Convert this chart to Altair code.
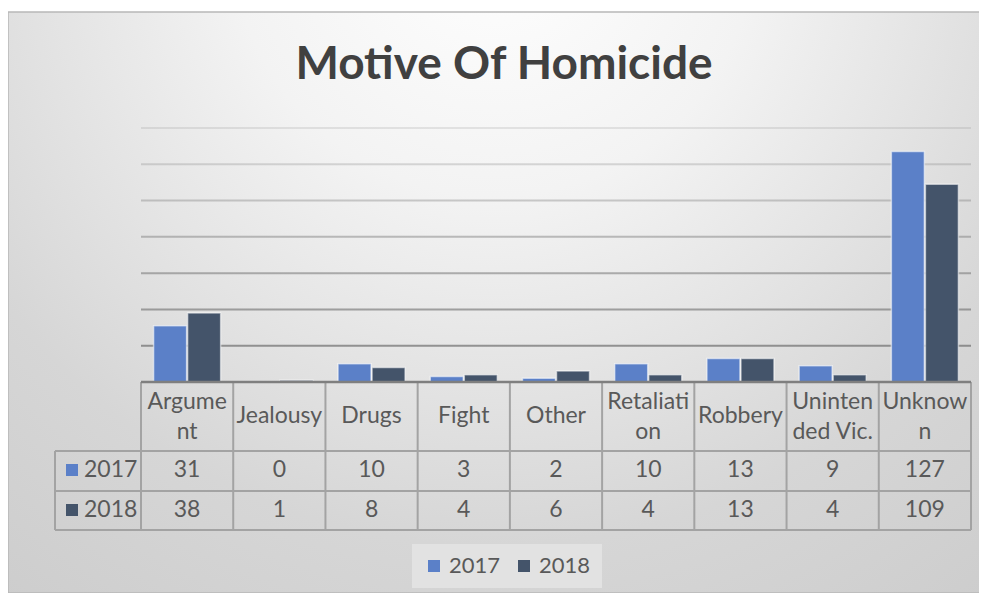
import altair as alt
import pandas as pd

categories = ["Argument", "Jealousy", "Drugs", "Fight", "Other",
              "Retaliation", "Robbery", "Unintended Vic.", "Unknown"]
header_labels = ["Argume\nnt", "Jealousy", "Drugs", "Fight", "Other",
                 "Retaliati\non", "Robbery", "Uninten\nded Vic.", "Unknow\nn"]
years = ["2017", "2018"]
values_2017 = [31, 0, 10, 3, 2, 10, 13, 9, 127]
values_2018 = [38, 1, 8, 4, 6, 4, 13, 4, 109]
grid_values = [20, 40, 60, 80, 100, 120, 140]
title_text = "Motive Of Homicide"

palette = ["#5B80C8", "#44546A"]
FONT = "Lato"
TXT = "#595959"
LINE = "#a3a3a3"

rows = []
for yr, vals in zip(years, [values_2017, values_2018]):
    for c, v in zip(categories, vals):
        rows.append({"category": c, "year": yr, "value": v})
df = pd.DataFrame(rows)
hdr = pd.DataFrame({"category": categories, "label": header_labels})
hdr_single = hdr[~hdr["label"].str.contains("\n")]
hdr_multi = hdr[hdr["label"].str.contains("\n")]
grid = pd.DataFrame({"value": grid_values})
one = pd.DataFrame({"k": [0]})

W, H = 830, 254
xscale = alt.Scale(domain=categories, paddingInner=0, paddingOuter=0)
yscale = alt.Scale(domain=[0, 140])

bg = alt.Chart(one).mark_rect(
    fill={"gradient": "radial",
          "x1": 0.5, "y1": 0.12, "x2": 0.5, "y2": 0.12, "r1": 0, "r2": 0.9,
          "stops": [{"offset": 0, "color": "#ffffff"},
                    {"offset": 0.3, "color": "#f3f3f3"},
                    {"offset": 0.7, "color": "#d6d6d6"},
                    {"offset": 1, "color": "#cbcbcb"}]},
    stroke="#b8b8b8", strokeWidth=1.5
).encode(x=alt.value(-133), x2=alt.value(839), y=alt.value(-116), y2=alt.value(465))

title = alt.Chart(one).mark_text(
    text=title_text, font=FONT, fontSize=46, fontWeight="bold", color="#404040",
    align="center", baseline="middle"
).encode(x=alt.value(363), y=alt.value(-63))

gridlines = alt.Chart(grid).mark_rule(color="#6e6e6e", strokeWidth=2).encode(
    y=alt.Y("value:Q", scale=yscale, axis=None),
    x=alt.value(0), x2=alt.value(W),
    opacity=alt.Opacity("value:Q", scale=alt.Scale(domain=[20, 140], range=[0.7, 0.15]), legend=None),
)

bars = alt.Chart(df).mark_bar(stroke="#ffffff", strokeOpacity=0.55, strokeWidth=1.5).encode(
    x=alt.X("category:N", scale=xscale, sort=categories, axis=None),
    xOffset=alt.XOffset("year:N", scale=alt.Scale(domain=years, paddingOuter=0.37, paddingInner=0.03)),
    y=alt.Y("value:Q", scale=yscale, axis=None),
    color=alt.Color("year:N", scale=alt.Scale(domain=years, range=palette),
                    legend=alt.Legend(title=None, orient="none", legendX=271, legendY=416,
                                      direction="horizontal", symbolType="square",
                                      symbolSize=144, symbolStrokeWidth=0,
                                      labelFontSize=22, labelFont=FONT, labelColor=TXT,
                                      fillColor="#e2e2e2", padding=11, columnPadding=12,
                                      labelOffset=4)),
)

header1 = alt.Chart(hdr_single).mark_text(
    font=FONT, fontSize=23, color=TXT, align="center", baseline="middle"
).encode(
    x=alt.X("category:N", scale=xscale, sort=categories, axis=None, bandPosition=0.5),
    y=alt.value(288),
    text="label:N",
)
header2 = alt.Chart(hdr_multi).mark_text(
    font=FONT, fontSize=23, color=TXT, align="center", baseline="middle",
    lineBreak="\n", lineHeight=30
).encode(
    x=alt.X("category:N", scale=xscale, sort=categories, axis=None, bandPosition=0.5),
    y=alt.value(274),
    text="label:N",
)

row_y = [342, 382]
layers = [bg, title, gridlines, bars, header1, header2]
for i, yr in enumerate(years):
    vals = alt.Chart(df).transform_filter(alt.datum.year == yr).mark_text(
        font=FONT, fontSize=23, color=TXT, align="center", baseline="middle"
    ).encode(
        x=alt.X("category:N", scale=xscale, sort=categories, axis=None, bandPosition=0.5),
        y=alt.value(row_y[i]),
        text="value:Q",
    )
    sq = alt.Chart(one).mark_square(size=144, color=palette[i], opacity=1).encode(
        x=alt.value(-69), y=alt.value(row_y[i]))
    lab = alt.Chart(one).mark_text(
        text=yr, font=FONT, fontSize=23, color=TXT, align="left", baseline="middle"
    ).encode(x=alt.value(-57), y=alt.value(row_y[i]))
    layers += [vals, sq, lab]

# table grid
vlines = alt.Chart(hdr).mark_rule(color=LINE, strokeWidth=2).encode(
    x=alt.X("category:N", scale=xscale, sort=categories, axis=None, bandPosition=0),
    y=alt.value(254), y2=alt.value(402),
)
right_edge = alt.Chart(one).mark_rule(color=LINE, strokeWidth=2).encode(
    x=alt.value(W), y=alt.value(254), y2=alt.value(402))
left_edge = alt.Chart(one).mark_rule(color=LINE, strokeWidth=2).encode(
    x=alt.value(-86), y=alt.value(323), y2=alt.value(402))
hlines = []
for yy in [323, 363, 402]:
    hlines.append(alt.Chart(one).mark_rule(color=LINE, strokeWidth=2).encode(
        x=alt.value(-86), x2=alt.value(W), y=alt.value(yy)))
baseline = alt.Chart(one).mark_rule(color="#7f7f7f", strokeWidth=2.5).encode(
    x=alt.value(0), x2=alt.value(W), y=alt.value(H))

layers += [vlines, right_edge, left_edge] + hlines + [baseline]

chart = alt.layer(*layers).properties(
    width=W, height=H,
    autosize=alt.AutoSizeParams(type="none"),
    padding={"left": 133, "top": 120, "right": 8, "bottom": 211},
    background="white",
).configure_view(stroke=None)

chart.save("out.html", embed_options={"renderer": "svg", "actions": False})
